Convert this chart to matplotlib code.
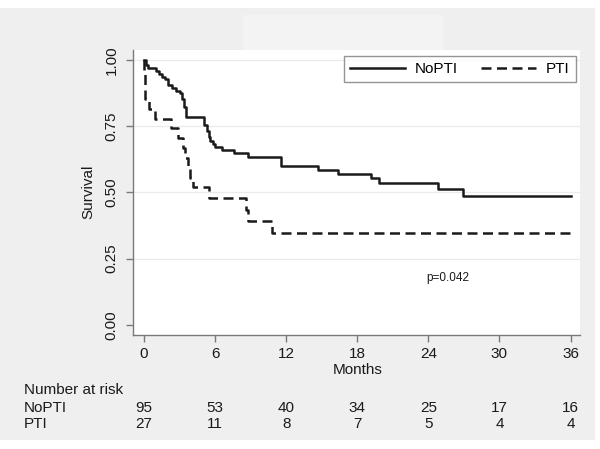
import matplotlib.pyplot as plt
from matplotlib.patches import Rectangle
from matplotlib.transforms import blended_transform_factory

plt.rcParams['font.family'] = ['Liberation Sans', 'DejaVu Sans']

# Kaplan-Meier steps (months, survival after the step)
months_nopti = [0, 0.15, 0.3, 1.0, 1.25, 1.5, 1.75, 2.05, 2.4, 2.7, 3.0, 3.2, 3.35, 3.55,
                5.1, 5.3, 5.45, 5.6, 5.8, 6.0, 6.6, 7.6, 8.8, 11.6, 14.7, 16.35, 19.15,
                19.8, 24.85, 26.9, 36]
surv_nopti = [1.0, 0.979, 0.968, 0.958, 0.947, 0.937, 0.926, 0.905, 0.895, 0.884, 0.874,
              0.853, 0.823, 0.785, 0.755, 0.730, 0.710, 0.695, 0.684, 0.672, 0.660, 0.647,
              0.634, 0.600, 0.585, 0.569, 0.553, 0.534, 0.511, 0.488, 0.488]

months_pti = [0, 0.03, 0.06, 0.09, 0.12, 0.4, 0.93, 2.3, 2.9, 3.3, 3.5, 3.7, 3.85, 4.1,
              5.5, 8.6, 8.8, 10.8, 36]
surv_pti = [1.0, 0.963, 0.926, 0.889, 0.852, 0.815, 0.778, 0.741, 0.704, 0.667, 0.630,
            0.593, 0.556, 0.519, 0.478, 0.434, 0.391, 0.348, 0.348]

risk_times = [0, 6, 12, 18, 24, 30, 36]
risk_nopti = [95, 53, 40, 34, 25, 17, 16]
risk_pti = [27, 11, 8, 7, 5, 4, 4]

W, H = 600, 449
fig = plt.figure(figsize=(6, 4.49), dpi=100)
fig.patch.set_facecolor('white')
# grey panel + faint title box
fig.patches.append(Rectangle((0, 1 - 440 / H), 595 / W, (440 - 8) / H, transform=fig.transFigure,
                             facecolor='#efefef', edgecolor='none', zorder=-10))
fig.patches.append(Rectangle((243 / W, 1 - 50 / H), 200 / W, 35 / H, transform=fig.transFigure,
                             facecolor='#f3f3f3', edgecolor='none', zorder=-9))

ax = fig.add_axes([133 / W, 1 - 335 / H, (580 - 133) / W, (335 - 50) / H])
ax.set_facecolor('white')

ax.step(months_nopti, surv_nopti, where='post', color='#1a1a1a', lw=1.8, label='NoPTI')
ax.step(months_pti, surv_pti, where='post', color='#1a1a1a', lw=1.8, dashes=(4, 2.2), label='PTI')

ax.set_xlim(-0.93, 36.8)
ax.set_ylim(-0.038, 1.037)
ax.set_xticks(risk_times)
ax.set_yticks([0, 0.25, 0.5, 0.75, 1.0])
ax.set_yticklabels(['0.00', '0.25', '0.50', '0.75', '1.00'], rotation=90, va='center')
for y in [0.25, 0.5, 0.75, 1.0]:
    ax.axhline(y, color='#ebebeb', lw=0.9, zorder=0)

for s in ['top', 'right']:
    ax.spines[s].set_visible(False)
for s in ['left', 'bottom']:
    ax.spines[s].set_color('#7a7a7a')
    ax.spines[s].set_linewidth(1.0)
ax.tick_params(axis='both', direction='out', length=5, color='#7a7a7a', width=1.0,
               labelsize=11, labelcolor='#1a1a1a')
ax.tick_params(axis='x', pad=4)
ax.tick_params(axis='y', pad=5.5)

fig.text(88 / W, 1 - 192 / H, 'Survival', rotation=90, ha='center', va='center',
         fontsize=11, color='#1a1a1a')
fig.text(358 / W, 1 - 373.5 / H, 'Months', ha='center', va='baseline', fontsize=11,
         color='#1a1a1a')

leg = ax.legend(loc='upper right', bbox_to_anchor=(576 / W, 1 - 56 / H),
                bbox_transform=fig.transFigure, ncol=2, frameon=True, fancybox=False,
                edgecolor='#7a7a7a', fontsize=11, handlelength=3.6, handletextpad=0.65,
                columnspacing=1.5, borderpad=0.4, borderaxespad=0)
leg.get_frame().set_linewidth(1.0)

ax.text(25.6, 0.177, 'p=0.042', ha='center', va='center', fontsize=8.5, color='#1a1a1a')

# number at risk table
tr = blended_transform_factory(ax.transData, fig.transFigure)
fig.text(24 / W, 1 - 393.5 / H, 'Number at risk', ha='left', va='baseline', fontsize=11,
         color='#1a1a1a')
fig.text(24 / W, 1 - 411.5 / H, 'NoPTI', ha='left', va='baseline', fontsize=11, color='#1a1a1a')
fig.text(24 / W, 1 - 427.5 / H, 'PTI', ha='left', va='baseline', fontsize=11, color='#1a1a1a')
for t, a, b in zip(risk_times, risk_nopti, risk_pti):
    ax.text(t, 1 - 411.5 / H, str(a), transform=tr, ha='center', va='baseline', fontsize=11,
            color='#1a1a1a')
    ax.text(t, 1 - 427.5 / H, str(b), transform=tr, ha='center', va='baseline', fontsize=11,
            color='#1a1a1a')

fig.savefig('out.png', dpi=100)
